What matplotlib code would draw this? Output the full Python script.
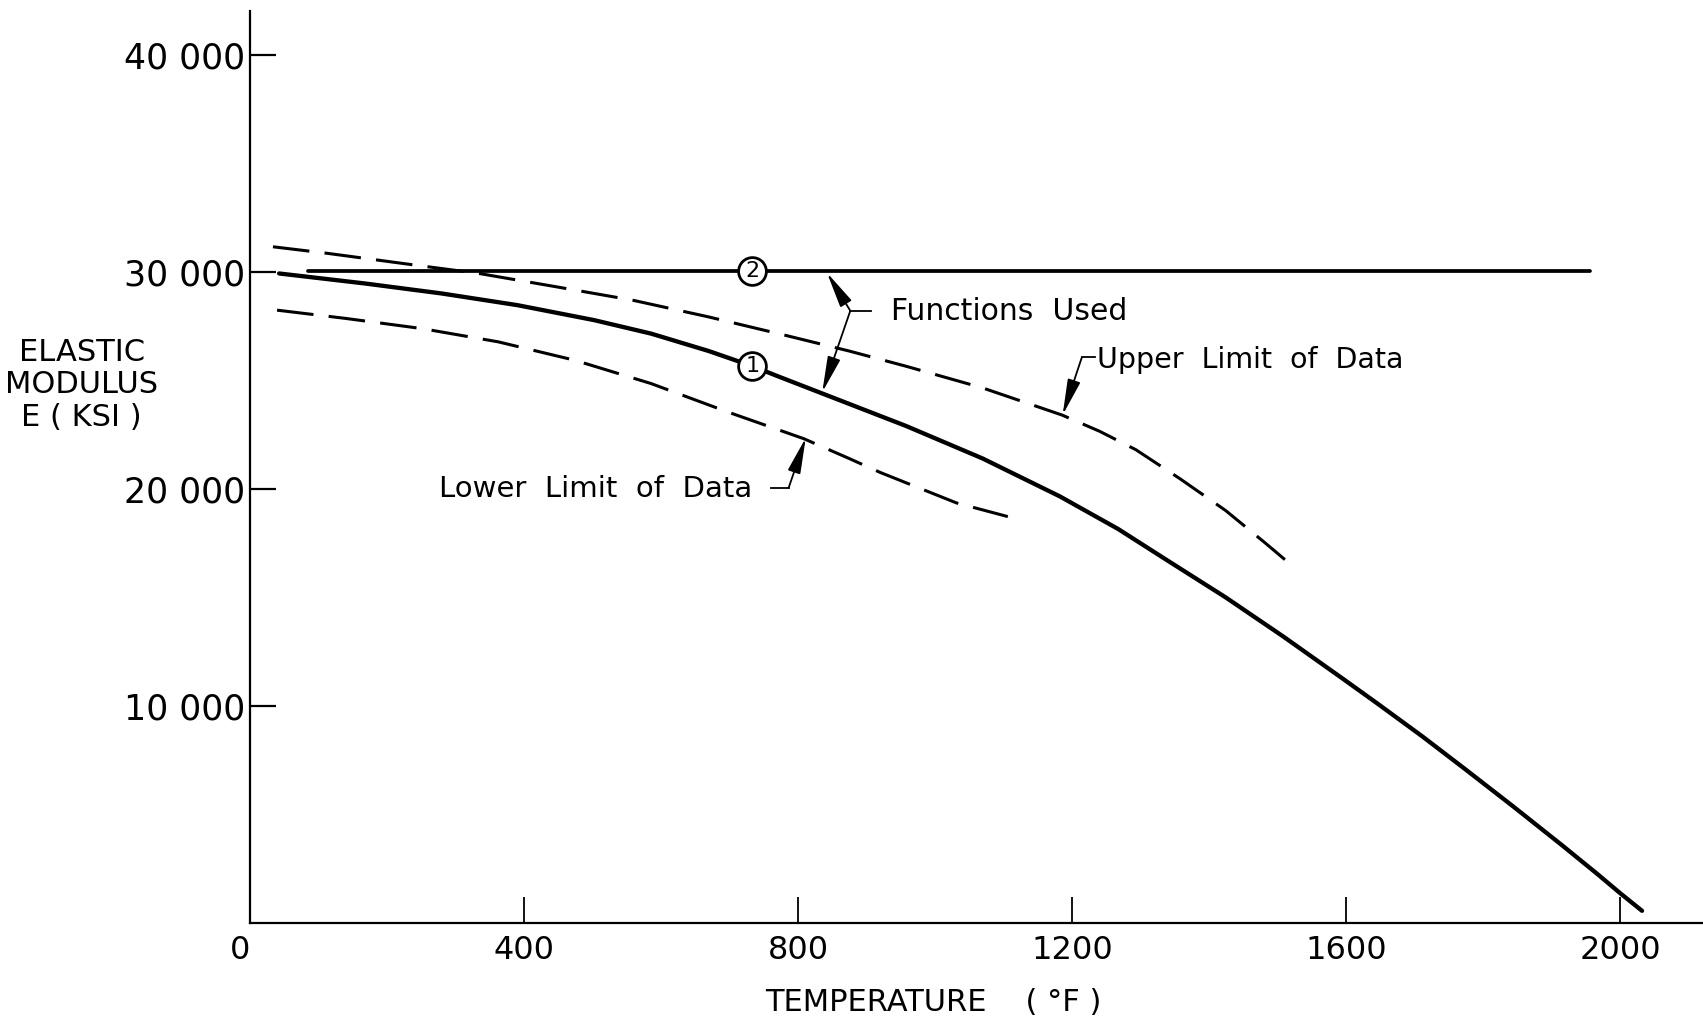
import numpy as np
import matplotlib
matplotlib.use('Agg')
import matplotlib.pyplot as plt

# === data (temperature F, modulus ksi) ===
# curve 1 - function used, drops with temperature
t_f1 = [42, 167, 279, 390, 502, 585, 669, 733, 769, 836, 957, 1069, 1182, 1267, 1339,
        1424, 1508, 1593, 1646, 1711, 1774, 1845, 1916, 1967, 1999, 2032]
e_f1 = [29920, 29460, 29000, 28460, 27770, 27150, 26350, 25650, 25200, 24380, 22900, 21400,
        19650, 18150, 16700, 15000, 13200, 11300, 10100, 8600, 7080, 5340, 3560, 2250, 1400, 560]
# curve 2 - constant function
t_f2 = [84, 1956]
e_f2 = [30050, 30050]
# upper / lower limit of data (dashed)
t_up = [33, 112, 223, 334, 446, 558, 669, 780, 874, 957, 1069, 1185, 1240, 1293, 1358,
        1424, 1482, 1512]
e_up = [31150, 30850, 30380, 29920, 29310, 28690, 27920, 27080, 26350, 25650, 24650, 23400,
        22650, 21800, 20450, 19000, 17500, 16700]
t_lo = [39, 139, 251, 362, 474, 585, 697, 808, 874, 920, 1031, 1106]
e_lo = [28230, 27850, 27380, 26770, 25920, 24850, 23540, 22310, 21400, 20750, 19350, 18720]

xticks = [0, 400, 800, 1200, 1600, 2000]
xticklabels = ['0', '400', '800', '1200', '1600', '2000']
yticks = [10000, 20000, 30000, 40000]
yticklabels = ['10 000', '20 000', '30 000', '40 000']
mark_t = 733   # where the circled numbers sit

plt.rcParams['font.family'] = ['DejaVu Sans']

fig = plt.figure(figsize=(17.03, 10.21), dpi=100)
ax = fig.add_axes([0.147, 0.096, 0.853, 0.893])

ax.plot(t_f1, e_f1, color='black', lw=3.1, solid_capstyle='round', solid_joinstyle='round', zorder=3)
ax.plot(t_f2, e_f2, color='black', lw=2.7, solid_capstyle='round', zorder=3)
ax.plot(t_up, e_up, color='black', lw=2.2, dashes=(12, 5), dash_joinstyle='round', zorder=2)
ax.plot(t_lo, e_lo, color='black', lw=2.2, dashes=(12, 5), dash_joinstyle='round', zorder=2)

# circled curve numbers
for lab, tt, ee in [('1', t_f1, e_f1), ('2', t_f2, e_f2)]:
    yy = np.interp(mark_t, tt, ee)
    ax.plot([mark_t], [yy], marker='o', ms=20, mfc='white', mec='black', mew=2, zorder=5)
    ax.text(mark_t, yy, lab, ha='center', va='center', fontsize=16, zorder=6)

arr = dict(arrowstyle='-|>,head_length=1.1,head_width=0.2', color='black', lw=1.3,
           shrinkA=0, shrinkB=0, mutation_scale=20)

# Functions Used
ax.text(935, 28150, 'Functions  Used', fontsize=21.5, va='center', ha='left')
ax.plot([876, 906], [28200, 28200], color='black', lw=1.3)
ax.annotate('', xy=(842, 29950), xytext=(876, 28200), arrowprops=arr)
ax.annotate('', xy=(835, 24450), xytext=(876, 28200), arrowprops=arr)

# Upper Limit of Data
ax.text(1236, 25950, 'Upper  Limit  of  Data', fontsize=20.5, va='center', ha='left')
ax.plot([1214, 1234], [26050, 26050], color='black', lw=1.3)
ax.annotate('', xy=(1186, 23400), xytext=(1214, 26050), arrowprops=arr)

# Lower Limit of Data
ax.text(276, 20000, 'Lower  Limit  of  Data', fontsize=21, va='center', ha='left')
ax.plot([760, 786], [20050, 20050], color='black', lw=1.3)
ax.annotate('', xy=(811, 22350), xytext=(786, 20050), arrowprops=arr)

ax.set_xlim(0, 2121)
ax.set_ylim(0, 42000)
ax.spines['top'].set_visible(False)
ax.spines['right'].set_visible(False)
ax.spines['left'].set_linewidth(1.6)
ax.spines['bottom'].set_linewidth(1.6)

ax.set_xticks(xticks)
ax.set_xticklabels(xticklabels, fontsize=23)
ax.set_yticks(yticks)
ax.set_yticklabels(yticklabels, fontsize=25)
ax.tick_params(axis='x', direction='in', length=19, width=1.3, pad=9)
ax.tick_params(axis='y', direction='in', length=19, width=1.6, pad=4)
ax.get_xticklabels()[0].set_ha('right')

fig.text(0.548, 0.018, 'TEMPERATURE    ( °F )', fontsize=22, ha='center', va='center')
fig.text(0.048, 0.623, 'ELASTIC\nMODULUS\nE ( KSI )', fontsize=22, ha='center', va='center',
         linespacing=1.15)

fig.savefig('out.png', dpi=100)
